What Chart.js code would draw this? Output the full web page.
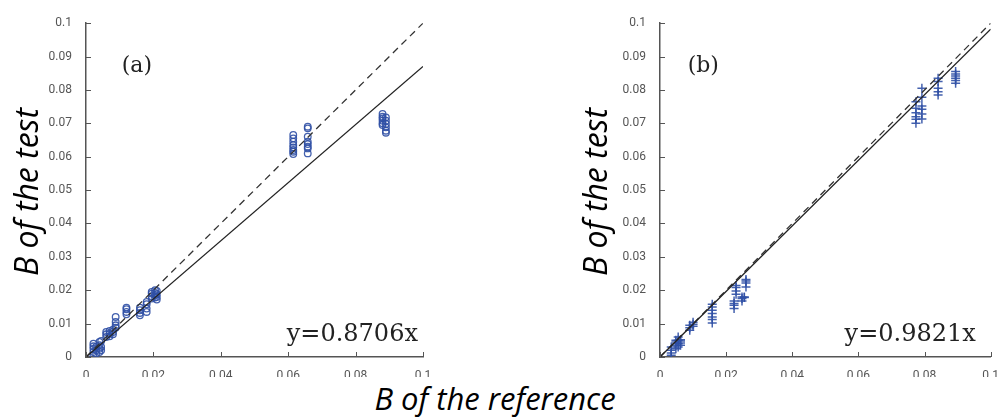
<!DOCTYPE html>
<html>
<head>
<meta charset="utf-8">
<script src="https://cdn.jsdelivr.net/npm/chart.js@4"></script>
<style>
  body { margin: 0; background: #fff; width: 1003px; height: 417px; position: relative; overflow: hidden; }
  .box { position: absolute; }
  .ylab { position: absolute; font-family: "Open Sans", sans-serif; font-style: italic; font-size: 32px; color: #000;
          transform: rotate(-90deg); transform-origin: center center; white-space: nowrap; width: 240px; text-align: center; line-height: 40px; }
  #xlab { position: absolute; left: 320px; top: 378px; width: 350px; text-align: center; line-height: 40px;
          font-family: "Open Sans", sans-serif; font-style: italic; font-size: 31px; color: #000; }
</style>
</head>
<body>
<div class="box" style="left:40px;top:10px;width:400px;height:367px;"><canvas id="chartA"></canvas></div>
<div class="box" style="left:614px;top:10px;width:389px;height:367px;"><canvas id="chartB"></canvas></div>
<div class="ylab" style="left:-94px;top:172px;">B of the test</div>
<div class="ylab" style="left:475px;top:172px;">B of the test</div>
<div id="xlab">B of the reference</div>
<script>
// (a) reference values and the test values measured at each one
var aX = [0.0022, 0.0030, 0.0040, 0.0045, 0.0060, 0.0070, 0.0080, 0.0088, 0.0120, 0.0160, 0.0180, 0.0195, 0.0205, 0.0210, 0.0615, 0.0658, 0.0880, 0.0890];
var aY = [
  [0.0005, 0.0015, 0.0025, 0.0032, 0.0040],
  [0.0010, 0.0020, 0.0030],
  [0.0015, 0.0025, 0.0035, 0.0045],
  [0.0020, 0.0030, 0.0048],
  [0.0060, 0.0068, 0.0075],
  [0.0062, 0.0070, 0.0078],
  [0.0068, 0.0075, 0.0082],
  [0.0088, 0.0095, 0.0105, 0.0120],
  [0.0128, 0.0135, 0.0143, 0.0148],
  [0.0125, 0.0132, 0.0140, 0.0148],
  [0.0135, 0.0145, 0.0158, 0.0165],
  [0.0175, 0.0182, 0.0190, 0.0195],
  [0.0178, 0.0185, 0.0192, 0.0200],
  [0.0172, 0.0180, 0.0188, 0.0198],
  [0.0608, 0.0615, 0.0620, 0.0628, 0.0635, 0.0645, 0.0655, 0.0665],
  [0.0610, 0.0625, 0.0630, 0.0638, 0.0645, 0.0660, 0.0685, 0.0690],
  [0.0695, 0.0700, 0.0708, 0.0715, 0.0720, 0.0728],
  [0.0672, 0.0678, 0.0688, 0.0698, 0.0708, 0.0718]
];
// (b)
var bX = [0.0034, 0.0048, 0.0055, 0.0062, 0.0090, 0.0100, 0.0158, 0.0224, 0.0230, 0.0248, 0.0255, 0.0260, 0.0774, 0.0792, 0.0841, 0.0894];
var bY = [
  [0.0005, 0.0012, 0.0020, 0.0030],
  [0.0025, 0.0035, 0.0045, 0.0050],
  [0.0030, 0.0040, 0.0050, 0.0060],
  [0.0035, 0.0042, 0.0048, 0.0052],
  [0.0080, 0.0088, 0.0095],
  [0.0092, 0.0098, 0.0104],
  [0.0102, 0.0112, 0.0120, 0.0130, 0.0140, 0.0150, 0.0158],
  [0.0145, 0.0155, 0.0160, 0.0168],
  [0.0188, 0.0198, 0.0208, 0.0214],
  [0.0168, 0.0175, 0.0180],
  [0.0178, 0.0180],
  [0.0210, 0.0222, 0.0228, 0.0232],
  [0.0700, 0.0712, 0.0720, 0.0732, 0.0745, 0.0765],
  [0.0713, 0.0728, 0.0742, 0.0752, 0.0778, 0.0805],
  [0.0785, 0.0795, 0.0805, 0.0825, 0.0835],
  [0.0820, 0.0828, 0.0835, 0.0842, 0.0848, 0.0855]
];
var slopeA = 0.8706;
var slopeB = 0.9821;
var axisMax = 0.1;

function toPoints(xs, ys) {
  var pts = [];
  for (var i in xs) {
    for (var j in ys[i]) pts.push({x: xs[i], y: ys[i][j]});
  }
  return pts;
}

function fmt(v) {
  return String(Math.round(v * 1000) / 1000);
}

// MATLAB style ticks that point into the plot
var innerTicks = {
  id: 'innerTicks',
  afterDraw: function(chart) {
    var ctx = chart.ctx, xs = chart.scales.x, ys = chart.scales.y;
    ctx.save();
    ctx.strokeStyle = '#555';
    ctx.lineWidth = 1;
    ctx.beginPath();
    xs.ticks.forEach(function(t) {
      var px = Math.round(xs.getPixelForValue(t.value)) + 0.5;
      ctx.moveTo(px, ys.bottom);
      ctx.lineTo(px, ys.bottom - 5);
    });
    ys.ticks.forEach(function(t) {
      var py = Math.round(ys.getPixelForValue(t.value)) + 0.5;
      ctx.moveTo(xs.left, py);
      ctx.lineTo(xs.left + 5, py);
    });
    ctx.stroke();
    ctx.restore();
  }
};

var notes = {
  id: 'notes',
  afterDatasetsDraw: function(chart, args, opts) {
    var ctx = chart.ctx, xs = chart.scales.x, ys = chart.scales.y;
    ctx.save();
    ctx.fillStyle = '#222';
    ctx.font = '22px "DejaVu Serif", serif';
    ctx.textAlign = 'center';
    ctx.textBaseline = 'middle';
    ctx.fillText(opts.tag, xs.getPixelForValue(opts.tagX), ys.getPixelForValue(0.087));
    ctx.font = '24px "DejaVu Serif", serif';
    ctx.textAlign = 'right';
    ctx.textBaseline = 'alphabetic';
    ctx.fillText(opts.eq, xs.getPixelForValue(opts.eqX), ys.getPixelForValue(0.0047));
    ctx.restore();
  }
};

function makeChart(id, pts, style, radius, slope, tag, tagX, eqX, padRight) {
  var ctx = document.getElementById(id);
  return new Chart(ctx, {
    type: 'scatter',
    data: {
      datasets: [
        {
          data: pts,
          pointStyle: style,
          pointRadius: radius,
          pointBorderWidth: style == 'cross' ? 1.5 : 1.3,
          borderColor: 'rgba(48, 80, 165, 0.9)',
          backgroundColor: 'rgba(0,0,0,0)',
          order: 2
        },
        {
          type: 'line',
          data: [{x: 0, y: 0}, {x: axisMax, y: axisMax}],
          borderColor: '#333',
          borderWidth: 1.3,
          borderDash: [7, 5],
          pointRadius: 0,
          fill: false,
          order: 1
        },
        {
          type: 'line',
          data: [{x: 0, y: 0}, {x: axisMax, y: axisMax * slope}],
          borderColor: '#222',
          borderWidth: 1.3,
          pointRadius: 0,
          fill: false,
          order: 0
        }
      ]
    },
    options: {
      responsive: true,
      maintainAspectRatio: false,
      animation: false,
      layout: { padding: { top: 10, right: padRight, left: 0, bottom: 0 } },
      plugins: {
        legend: { display: false },
        tooltip: { enabled: false },
        notes: { tag: tag, tagX: tagX, eq: 'y=' + slope.toFixed(4) + 'x', eqX: eqX }
      },
      scales: {
        x: {
          type: 'linear', min: 0, max: axisMax,
          grid: { display: false },
          border: { display: true, color: '#555', width: 1.5 },
          ticks: { stepSize: 0.02, padding: 4, color: '#555', font: { family: 'Roboto', size: 12 }, callback: fmt, maxRotation: 0 },
          afterFit: function(s) { s.height = 20; }
        },
        y: {
          type: 'linear', min: 0, max: axisMax,
          grid: { display: false },
          border: { display: true, color: '#555', width: 1.5 },
          ticks: { stepSize: 0.01, padding: 6, color: '#555', font: { family: 'Roboto', size: 12 }, callback: fmt },
          afterFit: function(s) { s.width = 46; }
        }
      }
    },
    plugins: [innerTicks, notes]
  });
}

makeChart('chartA', toPoints(aX, aY), 'circle', 3.3, slopeA, '(a)', 0.0151, 0.0985, 17);
makeChart('chartB', toPoints(bX, bY), 'cross', 4.5, slopeB, '(b)', 0.0131, 0.0955, 6);
</script>
</body>
</html>
